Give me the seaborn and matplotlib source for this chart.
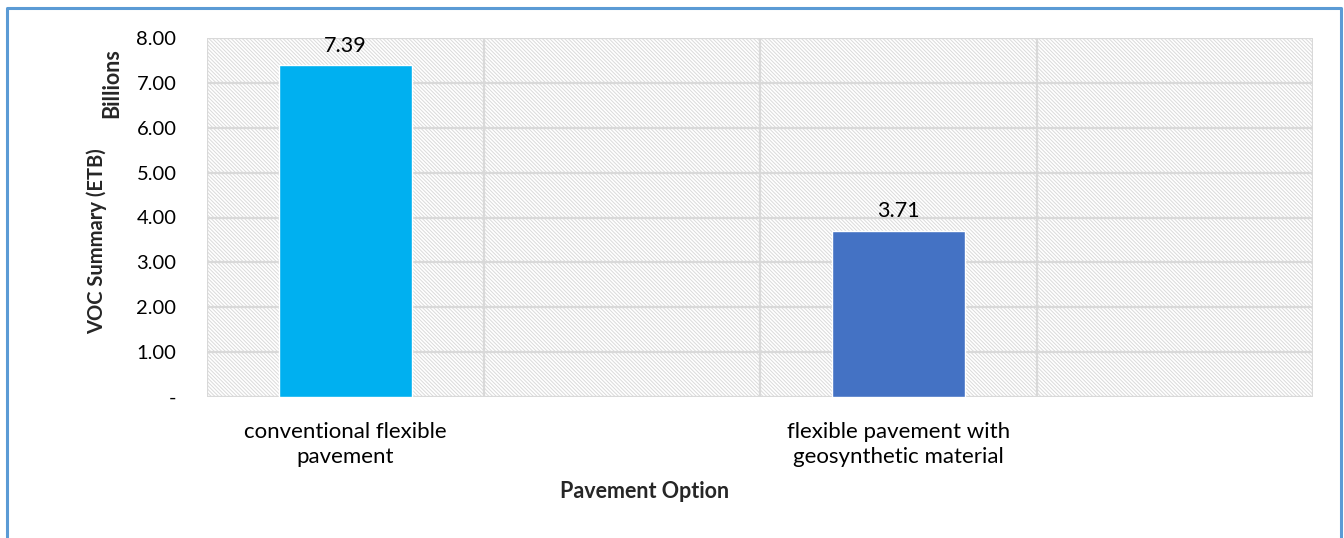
import matplotlib
matplotlib.use("Agg")
import matplotlib.pyplot as plt
from matplotlib.patches import Rectangle
from matplotlib.lines import Line2D
import seaborn as sns
import pandas as pd

# Data
options = ["conventional flexible\npavement", "flexible pavement with\ngeosynthetic material"]
voc_billions = [7.39, 3.71]
bar_colors = ["#00B0F0", "#4472C4"]
y_ticks = [0, 1, 2, 3, 4, 5, 6, 7, 8]
y_tick_labels = ["-", "1.00", "2.00", "3.00", "4.00", "5.00", "6.00", "7.00", "8.00"]

sns.set_theme(style="white")
plt.rcParams["font.family"] = ["Lato", "DejaVu Sans"]
plt.rcParams["hatch.linewidth"] = 0.7

df = pd.DataFrame({"option": options, "voc": voc_billions})

fig = plt.figure(figsize=(13.44, 5.38), dpi=100)
W, H = 1344, 538
ax = fig.add_axes([207 / W, 1 - 397 / H, (1313 - 207) / W, (397 - 38) / H])

# hatched plot-area background
ax.add_patch(Rectangle((0, 0), 1, 1, transform=ax.transAxes, facecolor="white",
                       edgecolor="#dadada", hatch="\\" * 9, linewidth=0, zorder=0))

sns.barplot(data=df, x="option", y="voc", hue="option", palette=bar_colors,
            order=options, hue_order=options, width=0.24, legend=False,
            saturation=1, ax=ax, zorder=3)

ax.set_xlim(-0.25, 1.75)
ax.set_ylim(0, 8)

# gridlines
for y in y_ticks:
    ax.axhline(y, color="#d9d9d9", lw=1.6, zorder=1)
for x in [-0.25, 0.25, 0.75, 1.25, 1.75]:
    ax.axvline(x, color="#d9d9d9", lw=1.6, zorder=1)

for s in ax.spines.values():
    s.set_visible(False)

ax.set_yticks(y_ticks)
ax.set_yticklabels(y_tick_labels)
ax.tick_params(axis="y", length=0, pad=22, labelsize=14.5, labelcolor="#000000")
ax.tick_params(axis="x", length=0, pad=18, labelsize=16, labelcolor="#000000")
for lbl in ax.get_xticklabels():
    lbl.set_linespacing(1.3)
ax.set_xlabel("")
ax.set_ylabel("")

# value labels
for i, v in enumerate(voc_billions):
    ax.annotate(f"{v:.2f}", (i, v), xytext=(0, 7), textcoords="offset points",
                ha="center", va="bottom", fontsize=15.5, color="#000000")

fig.text(645 / W, 1 - 492 / H, "Pavement Option", ha="center", va="center",
         fontsize=15.5, fontweight="bold")
fig.text(97 / W, 1 - 241 / H, "VOC Summary (ETB)", ha="center", va="center",
         rotation=90, fontsize=14.5, fontweight="bold")
fig.text(112 / W, 1 - 83 / H, "Billions", ha="center", va="center",
         rotation=90, fontsize=15.5, fontweight="bold")

# chart frame (open at the bottom)
frame_color = "#5B9BD5"
fig.add_artist(Line2D([7 / W, 7 / W, 1341 / W, 1341 / W], [0, 1 - 8 / H, 1 - 8 / H, 0],
                      transform=fig.transFigure, color=frame_color, lw=2.2))

fig.savefig("out.png", dpi=100)
